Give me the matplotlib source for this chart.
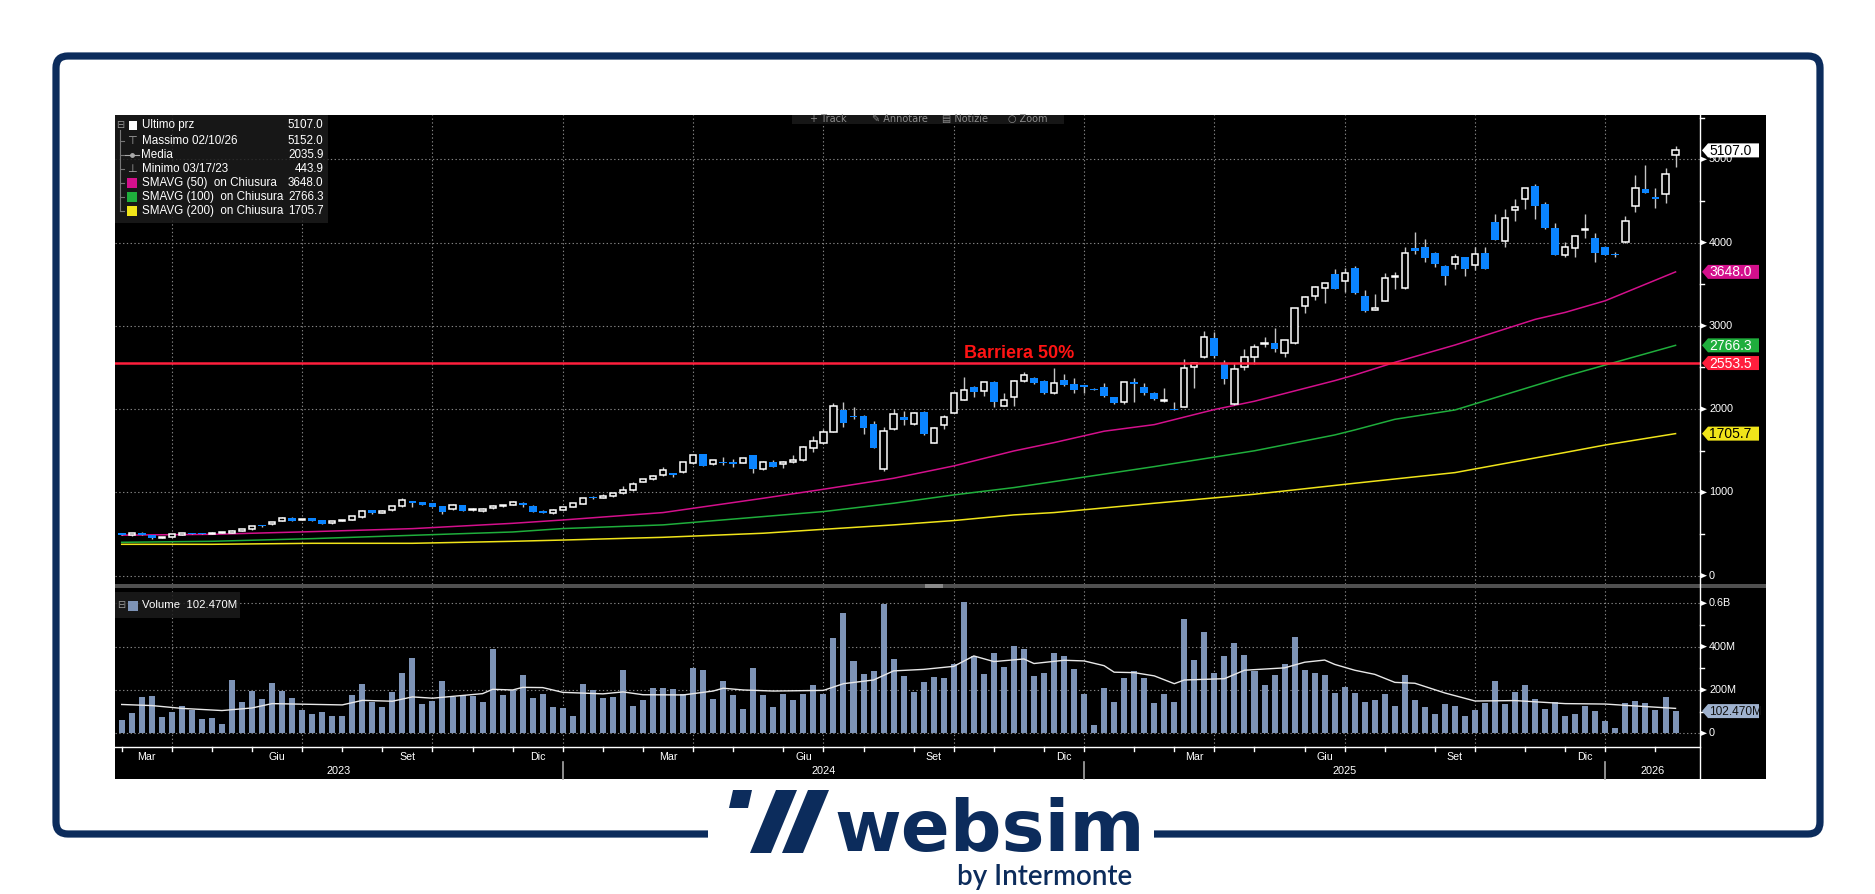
import matplotlib
matplotlib.use('Agg')
import matplotlib.pyplot as plt
from matplotlib.patches import Rectangle, FancyBboxPatch, Polygon
import numpy as np
import pandas as pd

# candele settimanali (venerdi)
start_date = '2023-02-24'
opens = [509, 485, 509, 490, 455, 465, 488, 510, 509, 502,
         517, 518, 533, 557, 604, 617, 657, 697, 674, 689,
         669, 629, 661, 669, 701, 789, 755, 785, 833, 888,
         881, 869, 837, 797, 845, 790, 773, 809, 838, 853,
         877, 837, 781, 749, 790, 826, 866, 938, 942, 954,
         990, 1026, 1130, 1162, 1206, 1230, 1242, 1350, 1458, 1342,
         1360, 1358, 1358, 1446, 1278, 1370, 1338, 1362, 1386, 1538,
         1590, 1730, 1990, 1915, 1918, 1818, 1278, 1762, 1902, 1826,
         1970, 1598, 1814, 1958, 2110, 2266, 2222, 2326, 2042, 2150,
         2334, 2374, 2338, 2190, 2350, 2302, 2282, 2242, 2266, 2142,
         2082, 2322, 2270, 2198, 2098, 2002, 2030, 2502, 2622, 2858,
         2550, 2062, 2502, 2630, 2785, 2794, 2670, 2790, 3242, 3358,
         3450, 3622, 3542, 3690, 3362, 3198, 3302, 3592, 3450, 3938,
         3946, 3878, 3718, 3742, 3826, 3730, 3878, 4250, 4022, 4386,
         4518, 4678, 4458, 4178, 3850, 3938, 4150, 4050, 3950, 3858,
         4002, 4442, 4646, 4550, 4582, 5054]
highs = [515, 512, 525, 492, 462, 503, 512, 514, 512, 520,
         528, 553, 560, 600, 612, 648, 700, 703, 684, 695,
         672, 658, 672, 716, 784, 792, 785, 836, 929, 892,
         888, 872, 840, 855, 848, 810, 815, 850, 850, 900,
         880, 845, 785, 800, 830, 874, 935, 961, 977, 998,
         1081, 1121, 1165, 1210, 1305, 1238, 1368, 1452, 1462, 1395,
         1422, 1397, 1416, 1450, 1378, 1385, 1374, 1446, 1560, 1678,
         1766, 2070, 2090, 2025, 1925, 1858, 1790, 1998, 1974, 1960,
         1978, 1786, 1930, 2200, 2390, 2275, 2330, 2332, 2190, 2345,
         2450, 2380, 2345, 2490, 2426, 2378, 2290, 2248, 2310, 2150,
         2330, 2370, 2310, 2205, 2258, 2090, 2598, 2560, 2938, 2926,
         2590, 2550, 2718, 2778, 2870, 2970, 2835, 3215, 3360, 3478,
         3518, 3678, 3698, 3714, 3426, 3378, 3634, 3650, 3950, 4122,
         4042, 3885, 3725, 3858, 3832, 3950, 3950, 4338, 4398, 4518,
         4655, 4702, 4486, 4230, 4002, 4085, 4338, 4110, 3955, 3890,
         4322, 4810, 4930, 4650, 4898, 5154]
lows = [485, 482, 483, 444, 450, 462, 484, 498, 499, 500,
        515, 516, 531, 554, 590, 614, 654, 658, 670, 655,
        620, 626, 658, 666, 698, 740, 750, 782, 830, 830,
        850, 826, 741, 790, 778, 780, 768, 800, 830, 850,
        820, 760, 750, 745, 785, 822, 862, 925, 935, 950,
        986, 1022, 1120, 1155, 1200, 1186, 1238, 1345, 1318, 1335,
        1333, 1310, 1352, 1238, 1272, 1300, 1298, 1358, 1380, 1482,
        1585, 1720, 1790, 1878, 1706, 1530, 1254, 1755, 1810, 1815,
        1695, 1590, 1762, 1950, 2105, 2150, 2158, 2030, 2035, 2038,
        2328, 2300, 2180, 2185, 2280, 2190, 2198, 2225, 2150, 2060,
        2060, 2090, 2170, 2110, 2090, 1990, 2020, 2250, 2615, 2610,
        2298, 2050, 2470, 2538, 2750, 2682, 2630, 2785, 3150, 3314,
        3270, 3440, 3410, 3385, 3170, 3190, 3295, 3440, 3445, 3862,
        3770, 3710, 3494, 3682, 3602, 3670, 3680, 4030, 3950, 4258,
        4398, 4278, 4165, 3845, 3830, 3830, 4050, 3762, 3845, 3830,
        3998, 4362, 4590, 4410, 4470, 4910]
closes = [489, 509, 485, 447, 458, 501, 508, 501, 502, 516,
          524, 529, 557, 597, 600, 645, 689, 661, 681, 661,
          625, 653, 669, 713, 781, 753, 781, 833, 909, 882,
          853, 829, 761, 849, 781, 795, 801, 837, 842, 885,
          845, 765, 757, 789, 822, 870, 930, 933, 946, 994,
          1026, 1102, 1158, 1198, 1266, 1214, 1362, 1446, 1322, 1390,
          1355, 1352, 1410, 1282, 1370, 1310, 1370, 1390, 1542, 1618,
          1722, 2034, 1838, 1905, 1770, 1538, 1734, 1938, 1870, 1950,
          1702, 1778, 1902, 2194, 2226, 2210, 2322, 2090, 2110, 2338,
          2406, 2310, 2190, 2310, 2286, 2234, 2274, 2234, 2158, 2070,
          2322, 2298, 2198, 2118, 2104, 1995, 2490, 2550, 2870, 2642,
          2362, 2482, 2630, 2750, 2792, 2726, 2826, 3210, 3350, 3470,
          3510, 3446, 3638, 3390, 3174, 3205, 3578, 3600, 3878, 3902,
          3818, 3742, 3602, 3826, 3686, 3858, 3686, 4034, 4290, 4422,
          4650, 4438, 4170, 3850, 3950, 4082, 4160, 3870, 3850, 3852,
          4262, 4658, 4598, 4518, 4818, 5107]
# volumi settimanali in milioni
volumes = [60, 94, 168, 172, 75, 98, 126, 109, 65, 69,
           43, 246, 143, 197, 158, 232, 197, 163, 109, 89,
           98, 80, 80, 177, 226, 143, 122, 191, 278, 348,
           135, 151, 242, 168, 177, 172, 143, 389, 177, 198,
           269, 163, 180, 122, 117, 80, 228, 200, 163, 168,
           291, 126, 154, 208, 208, 205, 183, 303, 291, 158,
           242, 177, 112, 300, 175, 122, 180, 154, 180, 222,
           183, 440, 554, 332, 274, 286, 598, 343, 266, 191,
           237, 262, 257, 322, 608, 357, 274, 369, 306, 402,
           389, 266, 278, 372, 357, 298, 183, 38, 208, 146,
           254, 286, 257, 138, 183, 143, 529, 338, 468, 278,
           357, 417, 362, 286, 222, 269, 318, 443, 294, 278,
           269, 188, 212, 186, 146, 154, 183, 126, 269, 154,
           122, 89, 135, 126, 80, 109, 138, 242, 135, 191,
           222, 158, 112, 143, 80, 89, 126, 102, 57, 26,
           138, 151, 138, 109, 166, 102.47]

# medie mobili lette in alcune settimane (indice candela, valore)
ma50_wk = [0, 9, 19, 29, 39, 44, 54, 64, 70, 77, 83, 89, 93, 98, 103, 109, 113, 121, 123, 127, 133, 141, 144, 148, 155]
ma50 = [487, 497, 529, 565, 629, 669, 758, 930, 1038, 1170, 1318, 1498, 1598, 1735, 1814, 1995, 2095, 2342, 2410, 2562, 2770, 3078, 3162, 3302, 3648]
ma100_wk = [0, 9, 19, 29, 39, 44, 54, 64, 70, 77, 83, 89, 93, 103, 113, 121, 123, 127, 133, 144, 148, 155]
ma100 = [401, 413, 445, 485, 525, 566, 610, 710, 770, 870, 970, 1058, 1130, 1310, 1500, 1690, 1750, 1878, 1990, 2395, 2530, 2766]
ma200_wk = [0, 9, 19, 29, 39, 44, 54, 64, 70, 77, 83, 89, 93, 103, 113, 123, 133, 144, 148, 155]
ma200 = [377, 377, 389, 389, 413, 428, 461, 510, 557, 610, 662, 730, 758, 870, 978, 1110, 1238, 1480, 1570, 1706]
vma_wk = [0, 3, 6, 10, 13, 15, 22, 24, 27, 29, 31, 36, 37, 39, 40, 42, 44, 48, 50, 52,
          56, 59, 60, 62, 65, 70, 72, 75, 77, 80, 83, 85, 87, 90, 91, 94, 96, 98, 99, 101,
          103, 105, 106, 110, 112, 116, 118, 120, 121, 123, 125, 127, 129, 132, 135, 139, 144, 148, 150, 155]
vma = [133, 128, 115, 105, 117, 137, 131, 152, 148, 168, 162, 183, 203, 200, 212, 211, 189, 182, 191, 178,
       177, 195, 208, 200, 195, 198, 229, 246, 288, 295, 309, 357, 331, 343, 322, 337, 334, 312, 282, 280,
       265, 229, 246, 252, 291, 302, 328, 338, 318, 291, 272, 235, 231, 186, 149, 151, 137, 135, 129, 115]
barriera = 2553.5

leg_lbl = ['Ultimo prz', 'Massimo 02/10/26', 'Media', 'Minimo 03/17/23',
           'SMAVG (50)  on Chiusura', 'SMAVG (100)  on Chiusura', 'SMAVG (200)  on Chiusura']
leg_val = ['5107.0', '5152.0', '2035.9', '443.9', '3648.0', '2766.3', '1705.7']
mesi = {3: 'Mar', 6: 'Giu', 9: 'Set', 12: 'Dic'}

W, H = 1875, 894
BB = 'Liberation Sans'
NAVY = '#0c2c5c'
BLU = '#0a84ff'
C50, C100, C200 = '#d4108c', '#1fae3c', '#f0e41a'
VCOL = '#7d93b6'

fig = plt.figure(figsize=(W / 100, H / 100), dpi=100)
fig.patch.set_facecolor('white')

def box(x0, y0, x1, y1):
    return [x0 / W, 1 - y1 / H, (x1 - x0) / W, (y1 - y0) / H]

# sfondo: cornice, area nera
bg = fig.add_axes([0, 0, 1, 1], zorder=0)
bg.set_xlim(0, W); bg.set_ylim(H, 0); bg.axis('off')
bg.add_patch(FancyBboxPatch((56, 56), 1764, 778, boxstyle='round,pad=0,rounding_size=12',
                            fill=False, ec=NAVY, lw=5.2))
bg.add_patch(Rectangle((708, 815), 446, 40, fc='white', ec='none'))
bg.add_patch(Rectangle((115, 115), 1651, 664, fc='black', ec='none'))

x = np.arange(len(closes))
dates = pd.date_range(start_date, periods=len(closes), freq='7D')
xlim = (-0.668, 157.44)

# indice dell'ultima candela prima dell'inizio di ogni mese
month_starts = pd.date_range('2023-03-01', '2026-02-01', freq='MS')
mt = [int(np.searchsorted(dates.values, m.to_datetime64())) - 1 for m in month_starts]
qt = [mt[k] for k, m in enumerate(month_starts) if m.month in (1, 4, 7, 10)]

grid_kw = dict(color='#858585', ls=(0, (1.2, 2.2)), lw=0.8)

# pannello prezzi
ax = fig.add_axes(box(115, 115, 1700, 584), zorder=1)
ax.set_facecolor('none')
ax.set_xlim(*xlim); ax.set_ylim(-99.7, 5531.9)
ax.set_yticks(range(0, 5001, 1000)); ax.set_xticks(qt)
ax.grid(True, **grid_kw); ax.set_axisbelow(True)
ax.tick_params(length=0, labelbottom=False, labelleft=False)
for s in ax.spines.values():
    s.set_visible(False)

o, h, l, c = map(np.array, (opens, highs, lows, closes))
up = c >= o
bh = np.maximum(np.abs(c - o), 16)
bb = (o + c) / 2 - bh / 2
ax.plot(ma200_wk, ma200, color=C200, lw=1.1, zorder=2)
ax.plot(ma100_wk, ma100, color=C100, lw=1.1, zorder=2)
ax.plot(ma50_wk, ma50, color=C50, lw=1.1, zorder=2)
ax.vlines(x, l, h, color='#c4c4c4', lw=1, zorder=3)
ax.bar(x[up], bh[up], bottom=bb[up], width=0.62, color='black', edgecolor='white', linewidth=1.1, zorder=4)
ax.bar(x[~up], bh[~up], bottom=bb[~up], width=0.78, color=BLU, edgecolor='none', zorder=4)
ax.axhline(barriera, color='#ff1f3d', lw=1.8, zorder=5)
ax.text(84, barriera + 55, 'Barriera 50%', color='#ff1414', fontsize=13, weight='bold',
        family=BB, va='baseline', ha='left', zorder=6)

# pannello volumi
axv = fig.add_axes(box(115, 588, 1700, 747), zorder=1)
axv.set_facecolor('none')
axv.set_xlim(*xlim); axv.set_ylim(-63.2, 670.5)
axv.set_yticks([0, 200, 400, 600]); axv.set_xticks(qt)
axv.grid(True, **grid_kw); axv.set_axisbelow(True)
axv.tick_params(length=0, labelbottom=False, labelleft=False)
for s in axv.spines.values():
    s.set_visible(False)
axv.bar(x, volumes, width=0.6, color=VCOL, zorder=2)
axv.plot(vma_wk, vma, color='#e8e8e8', lw=1, zorder=3)

# sovrapposizione in pixel
ov = fig.add_axes([0, 0, 1, 1], zorder=3)
ov.set_xlim(0, W); ov.set_ylim(H, 0); ov.axis('off')

def ypx(a, v):
    return ov.transData.inverted().transform(a.transData.transform((0, v)))[1]

def xpx(a, i):
    return ov.transData.inverted().transform(a.transData.transform((i, 0)))[0]

ov.add_patch(Rectangle((115, 584), 1651, 4, fc='#505050', ec='none'))
ov.add_patch(Rectangle((925, 584), 18, 4, fc='#8a8a8a', ec='none'))
ov.plot([1700, 1700], [115, 779], color='white', lw=1)
ov.plot([115, 1700], [747, 747], color='white', lw=1)

# etichette asse destro
def right_labels(a, vals, txts, minors):
    for v, t in zip(vals, txts):
        y = ypx(a, v)
        ov.add_patch(Polygon([(1700, y - 3), (1707, y), (1700, y + 3)], fc='white', ec='none'))
        ov.text(1709, y, t, color='white', fontsize=7.8, va='center', ha='left', family=BB)
    for v in minors:
        y = ypx(a, v)
        ov.plot([1700, 1704], [y, y], color='white', lw=1)

right_labels(ax, range(0, 5001, 1000), [str(v) for v in range(0, 5001, 1000)], range(500, 5501, 1000))
right_labels(axv, [0, 200, 400, 600], ['0', '200M', '400M', '0.6B'], [100, 300, 500])

def tag(yc, txt, fc, tc, size=10):
    ov.add_patch(Polygon([(1702, yc), (1708, yc - 7), (1759, yc - 7), (1759, yc + 7), (1708, yc + 7)],
                         fc=fc, ec='none', zorder=5))
    ov.text(1709, yc + 0.5, txt, color=tc, fontsize=size, va='center', ha='left', family=BB, zorder=6)

tag(ypx(ax, closes[-1]), '5107.0', 'white', 'black')
tag(ypx(ax, ma50[-1]), '3648.0', C50, 'white')
tag(ypx(ax, ma100[-1]), '2766.3', C100, 'white')
tag(ypx(ax, barriera), '2553.5', '#ff1f3d', 'white')
tag(ypx(ax, ma200[-1]), '1705.7', C200, 'black')
tag(ypx(axv, volumes[-1]), '102.470M', '#9fb2cf', '#111111', size=8.6)

# asse dei tempi
for m in mt:
    xp = xpx(axv, m)
    ov.plot([xp, xp], [747, 751], color='white', lw=1)
for k, m in enumerate(month_starts[:-1]):
    if m.month in mesi:
        xm = xpx(axv, (mt[k] + mt[k + 1]) / 2)
        ov.text(xm, 757, mesi[m.month], color='white', fontsize=7.7, ha='center', va='center', family=BB)
jan = [mt[k] for k, m in enumerate(month_starts) if m.month == 1]
bounds = [xlim[0]] + jan + [xlim[1]]
for k, anno in enumerate(['2023', '2024', '2025', '2026']):
    ov.text(xpx(axv, (bounds[k] + bounds[k + 1]) / 2), 771, anno, color='white', fontsize=7.9,
            ha='center', va='center', family=BB)
for j in jan:
    xp = xpx(axv, j)
    ov.plot([xp, xp], [762, 779], color='#a8a8a8', lw=1.2)

# legenda prezzi
ov.add_patch(Rectangle((115, 115), 213, 108, fc='#1c1c1c', ec='none', alpha=0.85))
leg_y = [125, 140.5, 154.5, 169, 183, 197, 211]
ov.plot([120, 120], [130, 211], color='#777777', lw=0.8)
for y in leg_y[1:]:
    ov.plot([120, 124], [y, y], color='#777777', lw=0.8)
ov.text(120, leg_y[0], '⊟', color='#9a9a9a', fontsize=7, ha='center', va='center', family='DejaVu Sans')
ov.add_patch(Rectangle((128.5, leg_y[0] - 4.5), 8.5, 9, fc='white', ec='none'))
ov.text(132, leg_y[1], '⊤', color='#aaaaaa', fontsize=8, ha='center', va='center', family='DejaVu Sans')
ov.plot([125, 139], [leg_y[2], leg_y[2]], color='#aaaaaa', lw=0.8)
ov.plot([132], [leg_y[2]], marker='o', ms=2.5, color='#aaaaaa')
ov.text(132, leg_y[3], '⊥', color='#aaaaaa', fontsize=8, ha='center', va='center', family='DejaVu Sans')
for y, col in zip(leg_y[4:], [C50, C100, C200]):
    ov.add_patch(Rectangle((127, y - 5), 10, 10, fc=col, ec='none'))
for y, t, v in zip(leg_y, leg_lbl, leg_val):
    ov.text(141.5, y, t, color='white', fontsize=8.4, ha='left', va='center', family=BB)
    ov.text(323.5, y, v, color='white', fontsize=8.4, ha='right', va='center', family=BB)

# legenda volumi
ov.add_patch(Rectangle((115, 592), 125, 26, fc='#1c1c1c', ec='none', alpha=0.85))
ov.text(121, 605, '⊟', color='#9a9a9a', fontsize=7, ha='center', va='center', family='DejaVu Sans')
ov.add_patch(Rectangle((128, 600.5), 10, 10, fc=VCOL, ec='none'))
ov.text(141.5, 605.5, 'Volume  102.470M', color='white', fontsize=8.2, ha='left', va='center', family=BB)

# barra strumenti in alto
ov.add_patch(Rectangle((792, 115), 272, 9, fc='#161616', ec='none'))
for xt, t in [(810, '+ Track'), (872, '✎ Annotare'), (942, '▤ Notizie'), (1008, '○ Zoom')]:
    ov.text(xt, 119, t, color='#8c8c8c', fontsize=7, ha='left', va='center', family='DejaVu Sans')

# logo
ov.add_patch(Polygon([(733, 790), (752, 790), (748, 808), (729, 808)], fc=NAVY, ec='none'))
ov.add_patch(Polygon([(750, 853), (771, 853), (797, 790), (776, 790)], fc=NAVY, ec='none'))
ov.add_patch(Polygon([(782, 853), (803, 853), (829, 790), (808, 790)], fc=NAVY, ec='none'))
ov.text(834, 851, 'websim', color=NAVY, fontsize=52, weight='bold', family='DejaVu Sans',
        ha='left', va='baseline')
ov.text(957, 885, 'by Intermonte', color=NAVY, fontsize=20, weight='semibold', family='Lato',
        ha='left', va='baseline')

fig.savefig('out.png', dpi=100, facecolor='white')
